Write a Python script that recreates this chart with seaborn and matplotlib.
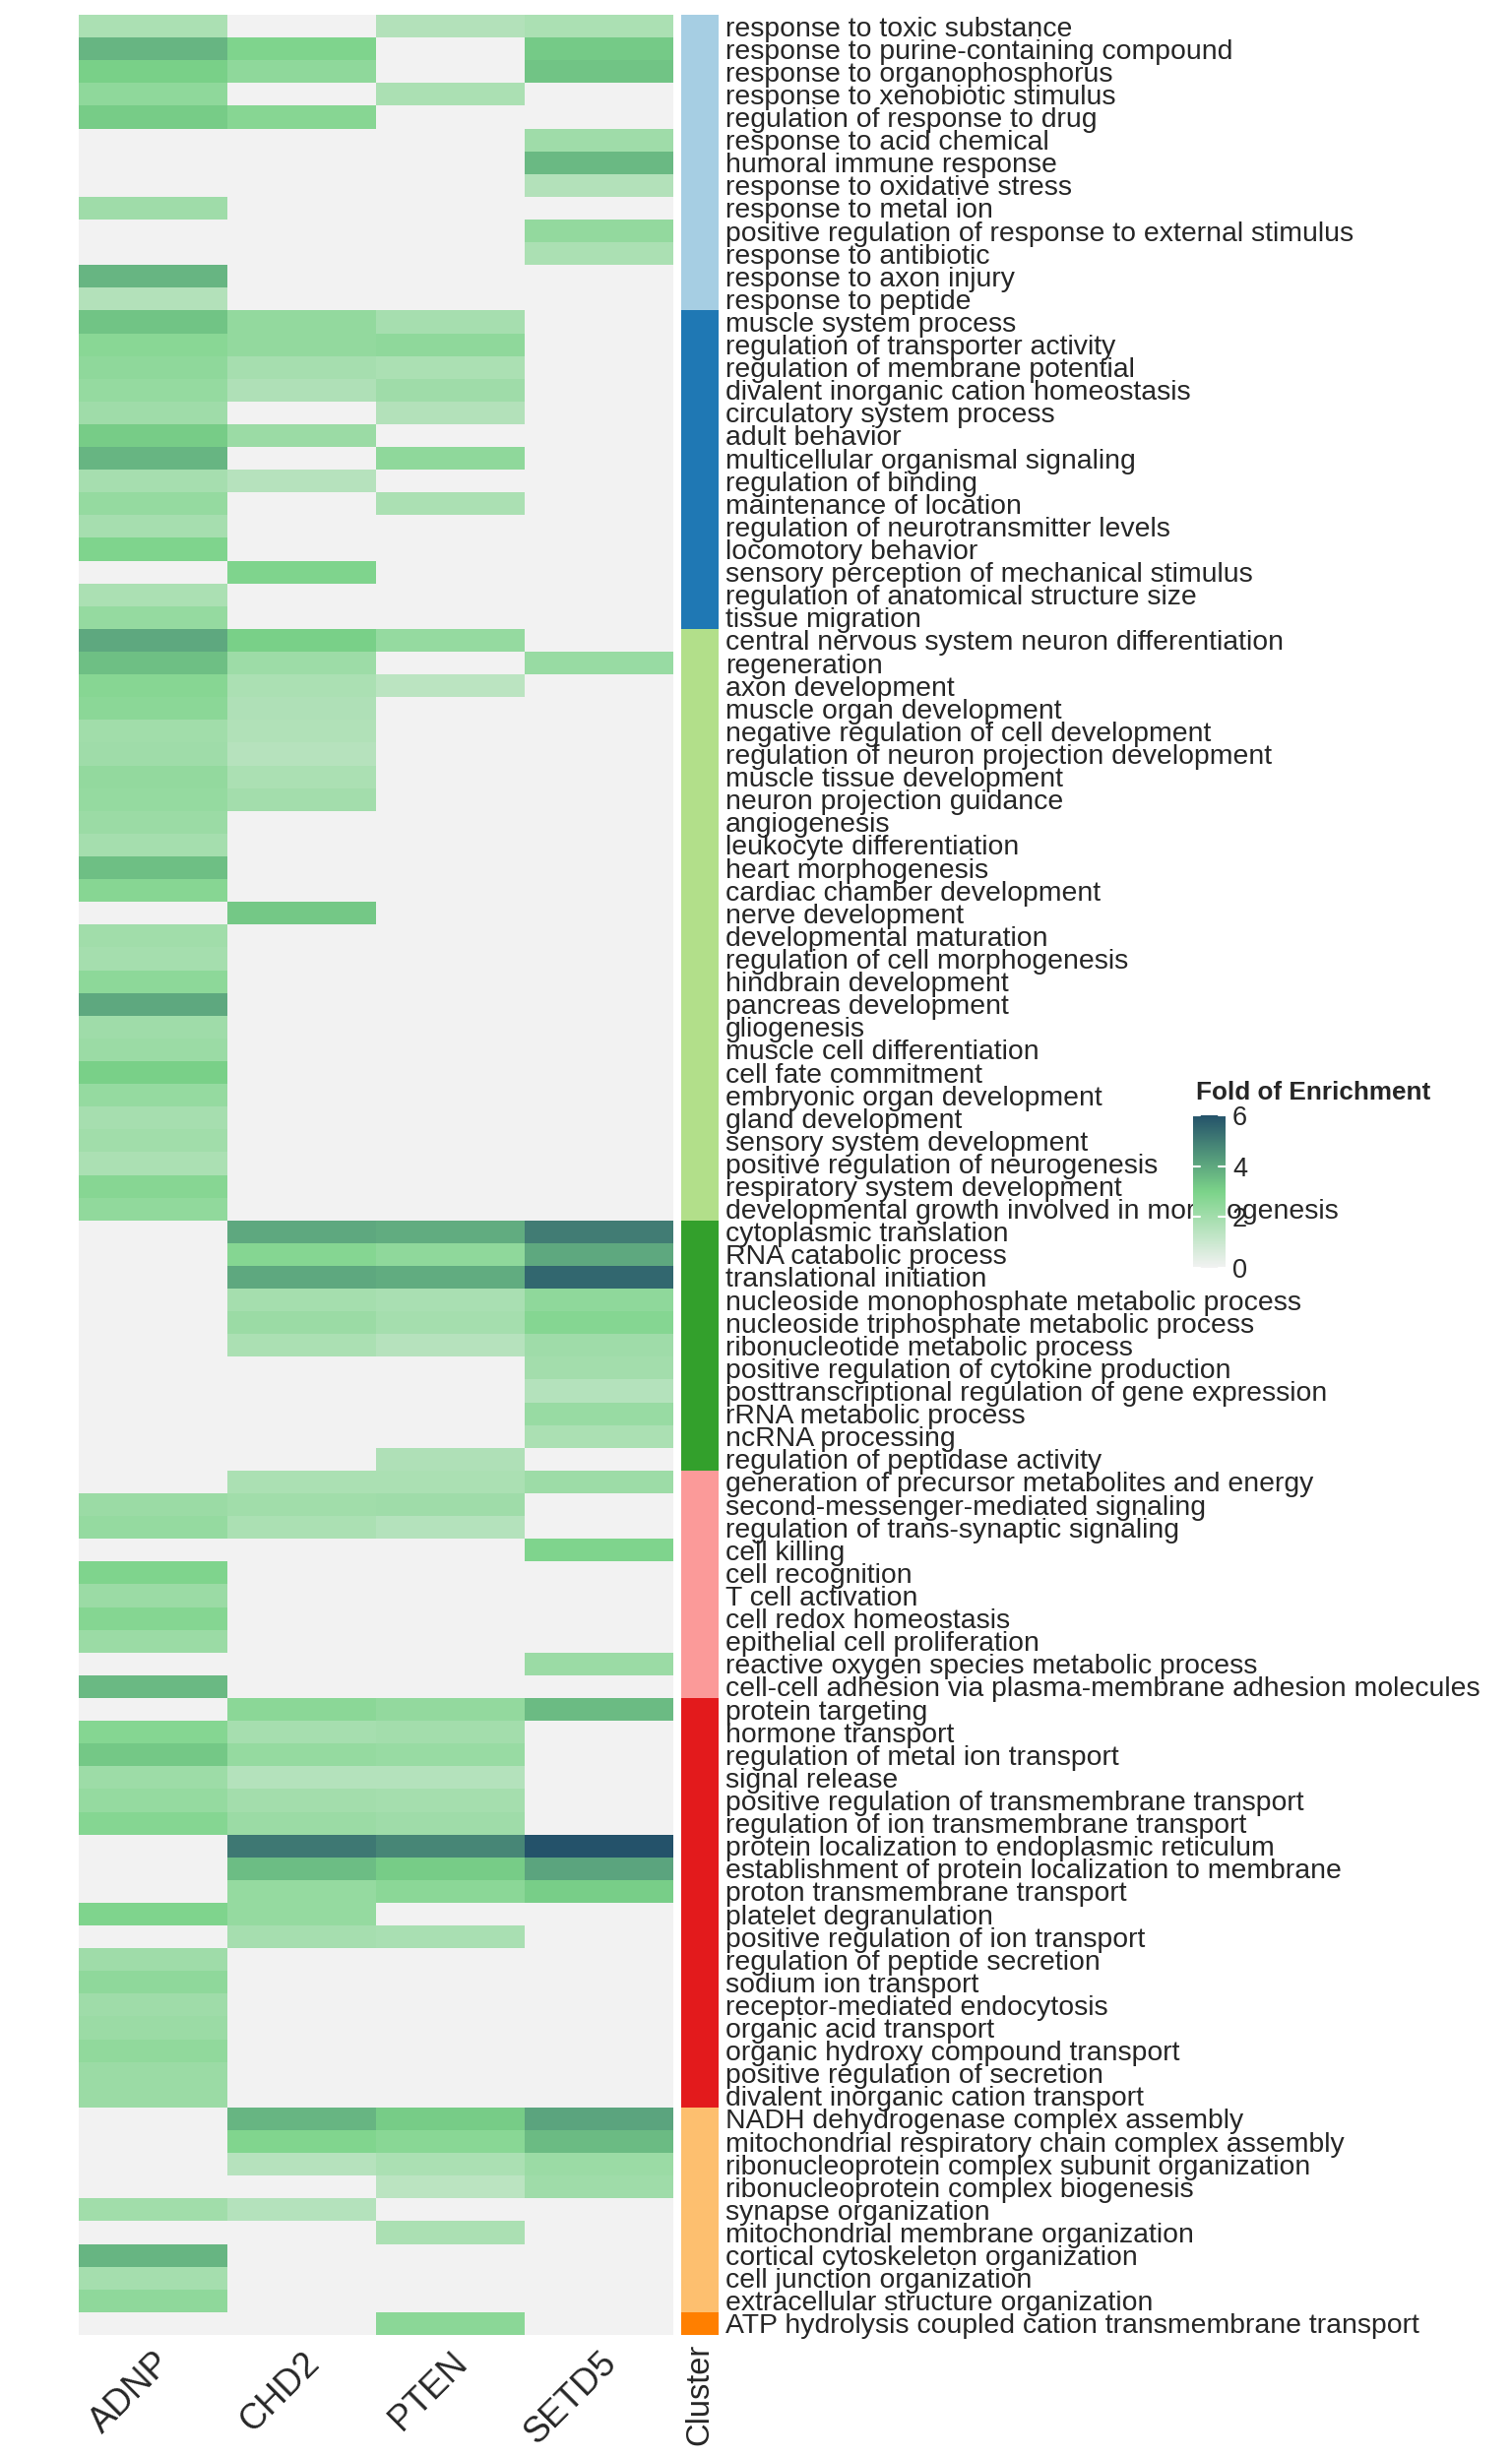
import numpy as np
import matplotlib
matplotlib.use("Agg")
import matplotlib.pyplot as plt
import matplotlib.transforms as mtrans
from matplotlib.colors import LinearSegmentedColormap, ListedColormap
import seaborn as sns

# GO terms, top to bottom
terms = [
    # cluster 1
    "response to toxic substance", "response to purine-containing compound",
    "response to organophosphorus", "response to xenobiotic stimulus",
    "regulation of response to drug", "response to acid chemical",
    "humoral immune response", "response to oxidative stress",
    "response to metal ion", "positive regulation of response to external stimulus",
    "response to antibiotic", "response to axon injury", "response to peptide",
    # cluster 2
    "muscle system process", "regulation of transporter activity",
    "regulation of membrane potential", "divalent inorganic cation homeostasis",
    "circulatory system process", "adult behavior",
    "multicellular organismal signaling", "regulation of binding",
    "maintenance of location", "regulation of neurotransmitter levels",
    "locomotory behavior", "sensory perception of mechanical stimulus",
    "regulation of anatomical structure size", "tissue migration",
    # cluster 3
    "central nervous system neuron differentiation", "regeneration",
    "axon development", "muscle organ development",
    "negative regulation of cell development",
    "regulation of neuron projection development", "muscle tissue development",
    "neuron projection guidance", "angiogenesis", "leukocyte differentiation",
    "heart morphogenesis", "cardiac chamber development", "nerve development",
    "developmental maturation", "regulation of cell morphogenesis",
    "hindbrain development", "pancreas development", "gliogenesis",
    "muscle cell differentiation", "cell fate commitment",
    "embryonic organ development", "gland development",
    "sensory system development", "positive regulation of neurogenesis",
    "respiratory system development",
    "developmental growth involved in morphogenesis",
    # cluster 4
    "cytoplasmic translation", "RNA catabolic process", "translational initiation",
    "nucleoside monophosphate metabolic process",
    "nucleoside triphosphate metabolic process",
    "ribonucleotide metabolic process",
    "positive regulation of cytokine production",
    "posttranscriptional regulation of gene expression",
    "rRNA metabolic process", "ncRNA processing",
    "regulation of peptidase activity",
    # cluster 5
    "generation of precursor metabolites and energy",
    "second-messenger-mediated signaling",
    "regulation of trans-synaptic signaling", "cell killing", "cell recognition",
    "T cell activation", "cell redox homeostasis", "epithelial cell proliferation",
    "reactive oxygen species metabolic process",
    "cell-cell adhesion via plasma-membrane adhesion molecules",
    # cluster 6
    "protein targeting", "hormone transport", "regulation of metal ion transport",
    "signal release", "positive regulation of transmembrane transport",
    "regulation of ion transmembrane transport",
    "protein localization to endoplasmic reticulum",
    "establishment of protein localization to membrane",
    "proton transmembrane transport", "platelet degranulation",
    "positive regulation of ion transport", "regulation of peptide secretion",
    "sodium ion transport", "receptor-mediated endocytosis",
    "organic acid transport", "organic hydroxy compound transport",
    "positive regulation of secretion", "divalent inorganic cation transport",
    # cluster 7
    "NADH dehydrogenase complex assembly",
    "mitochondrial respiratory chain complex assembly",
    "ribonucleoprotein complex subunit organization",
    "ribonucleoprotein complex biogenesis", "synapse organization",
    "mitochondrial membrane organization", "cortical cytoskeleton organization",
    "cell junction organization", "extracellular structure organization",
    # cluster 8
    "ATP hydrolysis coupled cation transmembrane transport",
]

genes = ["ADNP", "CHD2", "PTEN", "SETD5"]
cluster_sizes = [13, 14, 26, 11, 10, 18, 9, 1]
cluster_colors = ["#A6CEE3", "#1F78B4", "#B2DF8A", "#33A02C",
                  "#FB9A99", "#E31A1C", "#FDBF6F", "#FF7F00"]

# fold of enrichment per gene (0 = not enriched)
adnp = [1.8, 3.7, 3.05, 2.5, 3.15, 0, 0, 0, 2.1, 0, 0, 3.7, 1.6,
        3.35, 2.65, 2.5, 2.35, 2.1, 3.15, 3.7, 1.9, 2.35, 1.9, 2.9, 0, 1.8, 2.35,
        4.0, 3.45, 2.7, 2.6, 2.05, 2.1, 2.4, 2.35, 2.2, 1.95, 3.45, 2.7, 0,
        2.05, 1.95, 2.55, 4.0, 2.1, 2.2, 3.05, 2.35, 1.9, 2.05, 1.8, 2.7, 2.45,
        0, 0, 0, 0, 0, 0, 0, 0, 0, 0, 0,
        0, 2.2, 2.35, 0, 2.9, 2.2, 2.75, 2.2, 0, 3.6,
        0, 2.75, 3.25, 2.15, 2.35, 2.75, 0, 0, 0, 2.9, 0, 2.1, 2.5, 2.1,
        2.2, 2.45, 2.2, 2.2,
        0, 0, 0, 0, 2.05, 0, 3.7, 1.95, 2.5,
        0]
chd2 = [0, 2.9, 2.5, 0, 2.7, 0, 0, 0, 0, 0, 0, 0, 0,
        2.4, 2.4, 1.9, 1.7, 0, 2.2, 0, 1.5, 0, 0, 0, 2.9, 0, 0,
        3.05, 2.15, 1.8, 1.7, 1.65, 1.5, 1.8, 2.0, 0, 0, 0, 0, 3.25,
        0, 0, 0, 0, 0, 0, 0, 0, 0, 0, 0, 0, 0,
        4.0, 2.75, 4.0, 1.95, 2.2, 1.8, 0, 0, 0, 0, 0,
        1.8, 2.05, 1.8, 0, 0, 0, 0, 0, 0, 0,
        2.6, 1.9, 2.35, 1.55, 2.0, 2.2, 5.1, 3.5, 2.35, 2.35, 1.9, 0, 0, 0,
        0, 0, 0, 0,
        3.7, 2.85, 1.5, 0, 1.55, 0, 0, 0, 0,
        0]
pten = [1.6, 0, 0, 1.8, 0, 0, 0, 0, 0, 0, 0, 0, 0,
        1.9, 2.5, 1.8, 2.1, 1.6, 0, 2.5, 0, 1.8, 0, 0, 0, 0, 0,
        2.35, 0, 1.4, 0, 0, 0, 0, 0, 0, 0, 0, 0, 0,
        0, 0, 0, 0, 0, 0, 0, 0, 0, 0, 0, 0, 0,
        3.9, 2.5, 3.9, 1.85, 1.95, 1.5, 0, 0, 0, 0, 1.7,
        1.8, 2.1, 1.55, 0, 0, 0, 0, 0, 0, 0,
        2.4, 2.0, 2.25, 1.55, 1.95, 2.1, 4.8, 3.15, 2.6, 0, 1.85, 0, 0, 0,
        0, 0, 0, 0,
        3.15, 2.65, 1.8, 1.4, 0, 1.8, 0, 0, 0,
        2.6]
setd5 = [1.8, 3.2, 3.35, 0, 0, 2.1, 3.6, 1.6, 0, 2.4, 1.8, 0, 0,
         0, 0, 0, 0, 0, 0, 0, 0, 0, 0, 0, 0, 0, 0,
         0, 2.25, 0, 0, 0, 0, 0, 0, 0, 0, 0, 0, 0,
         0, 0, 0, 0, 0, 0, 0, 0, 0, 0, 0, 0, 0,
         5.0, 4.0, 5.5, 2.5, 2.75, 2.1, 2.0, 1.55, 2.25, 1.8, 0,
         2.15, 0, 0, 2.9, 0, 0, 0, 0, 2.2, 0,
         3.55, 0, 0, 0, 0, 0, 6.0, 4.1, 3.1, 0, 0, 0, 0, 0,
         0, 0, 0, 0,
         4.1, 3.55, 2.2, 2.1, 0, 0, 0, 0, 0,
         0]

values = np.column_stack([adnp, chd2, pten, setd5])
clusters = np.repeat(np.arange(1, len(cluster_sizes) + 1), cluster_sizes).reshape(-1, 1)

sns.set_theme(style="white")
plt.rcParams['font.family'] = ['Liberation Sans', 'DejaVu Sans']

W, H = 1536, 2496
fig = plt.figure(figsize=(W / 100, H / 100), dpi=100)


def box(x0, y0, x1, y1):
    # pixel box (top-left origin) -> figure fraction
    return [x0 / W, 1 - y1 / H, (x1 - x0) / W, (y1 - y0) / H]


ax = fig.add_axes(box(80, 15, 684, 2372))
cax = fig.add_axes(box(692, 15, 730, 2372))
cbar_ax = fig.add_axes(box(1212, 1133, 1245, 1288))

cmap = LinearSegmentedColormap.from_list(
    "foe", [(0, "#f2f2f2"), (0.5, "#7bd389"), (1, "#24526a")])

sns.heatmap(values, ax=ax, cmap=cmap, vmin=0, vmax=6,
            xticklabels=genes, yticklabels=False,
            cbar_ax=cbar_ax, cbar_kws={"ticks": [0, 2, 4, 6]})
ax.set_xticklabels(genes, rotation=45, ha="right", va="top",
                   rotation_mode="anchor", fontsize=26)
ax.tick_params(axis="x", length=0, pad=8)

sns.heatmap(clusters, ax=cax, cmap=ListedColormap(cluster_colors),
            vmin=0.5, vmax=len(cluster_sizes) + 0.5, cbar=False,
            xticklabels=["Cluster"], yticklabels=terms)
cax.set_xticklabels(["Cluster"], rotation=90, ha="center", va="top", fontsize=23.5)
cax.tick_params(axis="x", length=0, pad=6)
cax.yaxis.tick_right()
cax.tick_params(axis="y", length=0, pad=5, labelsize=20.4,
                labelright=True, labelleft=False)
for t in cax.get_yticklabels():
    t.set_rotation(0)
    t.set_ha("left")

# legend
cbar = ax.collections[0].colorbar
cbar.outline.set_visible(False)
cbar_ax.tick_params(length=0, labelsize=19.5, pad=5)
tr = mtrans.blended_transform_factory(cbar_ax.transAxes, cbar_ax.transData)
for v in [0, 2, 4, 6]:
    cbar_ax.plot([0, 0.22], [v, v], color="white", lw=1.5, transform=tr)
    cbar_ax.plot([0.78, 1], [v, v], color="white", lw=1.5, transform=tr)
fig.text(1215 / W, 1 - 1110 / H, "Fold of Enrichment", fontsize=18.8,
         fontweight="bold", ha="left", va="center")

fig.savefig("out.png", dpi=100)
